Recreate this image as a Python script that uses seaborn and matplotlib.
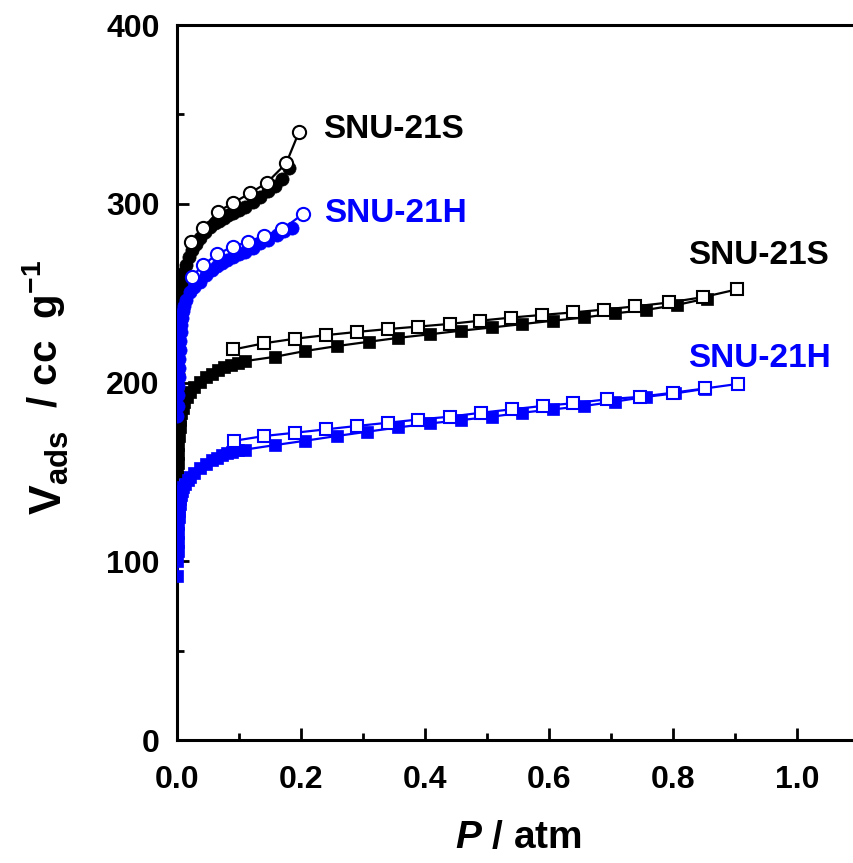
import numpy as np
import pandas as pd
import matplotlib
matplotlib.use("Agg")
import matplotlib.pyplot as plt
from matplotlib.ticker import MultipleLocator
import seaborn as sns

# ---- isotherm data (P / atm, V_ads / cc g^-1) ----
# SNU-21S, low-pressure isotherm (circles)
s_circ_ads_p = [0.0005, 0.001, 0.0015, 0.002, 0.0025, 0.003, 0.004, 0.005, 0.006, 0.008,
                0.010, 0.012, 0.015, 0.019, 0.024, 0.030, 0.037, 0.045, 0.053, 0.061,
                0.068, 0.075, 0.083, 0.091, 0.100, 0.110, 0.122, 0.134, 0.146, 0.158,
                0.170, 0.181]
s_circ_ads_v = [195, 205, 213, 220, 227, 233, 240, 245, 249, 254,
                258, 262, 266, 270, 274, 277.5, 281, 284, 287, 289,
                290.5, 292, 293.5, 295, 296.5, 298, 301, 304, 307, 310,
                314, 320]
s_circ_des_p = [0.022, 0.042, 0.066, 0.091, 0.117, 0.145, 0.176, 0.197]
s_circ_des_v = [278.8, 286.2, 295.6, 300.6, 305.8, 311.8, 322.6, 340.4]

# SNU-21H, low-pressure isotherm (circles)
h_circ_ads_p = [0.0005, 0.001, 0.0015, 0.002, 0.0025, 0.003, 0.0035, 0.004, 0.005, 0.006,
                0.007, 0.008, 0.010, 0.012, 0.015, 0.021, 0.028, 0.037, 0.046, 0.056,
                0.064, 0.072, 0.081, 0.091, 0.100, 0.110, 0.122, 0.134, 0.147, 0.161,
                0.173, 0.185]
h_circ_ads_v = [181, 187, 193, 198, 203, 208, 213, 218, 223, 228,
                232, 236, 240, 243, 246, 250.5, 253.5, 256.5, 260, 263,
                265, 266.7, 268.5, 270.4, 272, 273.2, 275.5, 277.8, 280, 282.5,
                284.5, 286.2]
h_circ_des_p = [0.024, 0.042, 0.065, 0.090, 0.115, 0.140, 0.170, 0.203]
h_circ_des_v = [259.2, 265.7, 271.9, 276.0, 278.8, 282.0, 285.7, 294.3]

# SNU-21S, high-pressure isotherm (squares)
s_sq_ads_p = [0.0005, 0.001, 0.0015, 0.002, 0.003, 0.004, 0.005, 0.007, 0.009, 0.012,
              0.016, 0.021, 0.028, 0.037, 0.046, 0.056, 0.066, 0.076, 0.087, 0.098,
              0.110, 0.158, 0.206, 0.258, 0.309, 0.357, 0.408, 0.458, 0.508, 0.557,
              0.607, 0.657, 0.706, 0.756, 0.806, 0.854]
s_sq_ads_v = [150, 155, 160, 165, 170, 175, 179, 183, 186, 189,
              192, 194.5, 197.5, 200.5, 203, 205, 207, 208.5, 210, 211,
              212, 214.4, 217.6, 220.4, 222.8, 225, 227, 229, 230.8, 232.7,
              234.6, 236.4, 238.7, 240.6, 243.4, 247]
s_sq_des_p = [0.091, 0.141, 0.190, 0.240, 0.290, 0.340, 0.389, 0.440, 0.489, 0.538,
              0.588, 0.638, 0.688, 0.739, 0.794, 0.849, 0.903]
s_sq_des_v = [218.5, 222, 224.5, 226.5, 228.3, 229.9, 231.3, 232.8, 234.6, 236.3,
              237.8, 239.2, 240.8, 242.6, 244.8, 247.8, 252.1]

# SNU-21H, high-pressure isotherm (squares)
h_sq_ads_p = [0.0003, 0.0006, 0.0009, 0.0012, 0.0015, 0.002, 0.0025, 0.003, 0.004, 0.005,
              0.006, 0.008, 0.010, 0.013, 0.017, 0.021, 0.028, 0.037, 0.046, 0.056,
              0.064, 0.072, 0.080, 0.088, 0.098, 0.110, 0.158, 0.206, 0.258, 0.307,
              0.357, 0.408, 0.458, 0.508, 0.556, 0.607, 0.657, 0.706, 0.756, 0.803,
              0.852]
h_sq_ads_v = [92, 100, 106, 111, 116, 121, 125, 128, 132, 135,
              137, 139.5, 141.5, 143.5, 145.5, 147, 149.5, 152, 154.5, 156.5,
              158, 159.4, 160.5, 161.3, 162, 162.5, 165, 167.4, 170.1, 172.5,
              174.9, 177.1, 179, 180.9, 183.1, 185, 186.9, 189.3, 192, 193.9,
              196.5]
h_sq_des_p = [0.092, 0.141, 0.190, 0.240, 0.290, 0.340, 0.389, 0.440, 0.490, 0.540,
              0.590, 0.639, 0.693, 0.746, 0.800, 0.852, 0.904]
h_sq_des_v = [167.4, 170.1, 171.9, 173.8, 175.7, 177.5, 179.3, 180.9, 183.1, 185.0,
              186.9, 188.4, 190.6, 192.0, 194.3, 196.7, 199.2]

# curve labels
label_texts = ["SNU-21S", "SNU-21H", "SNU-21S", "SNU-21H"]
label_p = [0.235, 0.237, 0.824, 0.824]
label_v = [336.8, 289.8, 266.3, 208.7]

BLACK = "#000000"
BLUE = "#0000FF"
label_colors = [BLACK, BLUE, BLACK, BLUE]

# ---- style ----
sns.set_style("ticks")
plt.rcParams["font.family"] = ["Liberation Sans", "DejaVu Sans"]
plt.rcParams["font.weight"] = "bold"
plt.rcParams["text.color"] = BLACK
plt.rcParams["axes.labelcolor"] = BLACK
plt.rcParams["xtick.color"] = BLACK
plt.rcParams["ytick.color"] = BLACK
plt.rcParams["mathtext.fontset"] = "custom"
plt.rcParams["mathtext.rm"] = "Liberation Sans:bold"
plt.rcParams["mathtext.bf"] = "Liberation Sans:bold"
plt.rcParams["mathtext.it"] = "Liberation Sans:italic:bold"
plt.rcParams["mathtext.sf"] = "Liberation Sans:bold"

fig = plt.figure(figsize=(8.54, 8.63), dpi=100)
ax = fig.add_axes([0.2073, 0.1425, 0.7986, 0.8285])


def draw(p, v, color, marker, ms, filled):
    df = pd.DataFrame({"P": p, "V": v})
    kw = dict(marker=marker, markersize=ms, linewidth=1.6, color=color,
              markeredgecolor=color, estimator=None, errorbar=None, ax=ax,
              legend=False, zorder=3 if filled else 4)
    if filled:
        kw.update(markerfacecolor=color, markeredgewidth=0.5)
    else:
        kw.update(markerfacecolor="white", markeredgewidth=1.5)
    sns.lineplot(data=df, x="P", y="V", **kw)


# black (SNU-21S) first, blue (SNU-21H) over it; desorption over adsorption
draw(s_sq_ads_p, s_sq_ads_v, BLACK, "s", 8.5, True)
draw(s_sq_des_p, s_sq_des_v, BLACK, "s", 8.5, False)
draw(s_circ_ads_p, s_circ_ads_v, BLACK, "o", 9.5, True)
draw(s_circ_des_p, s_circ_des_v, BLACK, "o", 9.5, False)
draw(h_sq_ads_p, h_sq_ads_v, BLUE, "s", 8.5, True)
draw(h_sq_des_p, h_sq_des_v, BLUE, "s", 8.5, False)
draw(h_circ_ads_p, h_circ_ads_v, BLUE, "o", 9.5, True)
draw(h_circ_des_p, h_circ_des_v, BLUE, "o", 9.5, False)

for t, p, v, c in zip(label_texts, label_p, label_v, label_colors):
    ax.text(p, v, t, color=c, fontsize=24, fontweight="bold",
            ha="left", va="baseline")

ax.set_xlim(0, 1.1)
ax.set_ylim(0, 400)
ax.xaxis.set_major_locator(MultipleLocator(0.2))
ax.xaxis.set_minor_locator(MultipleLocator(0.1))
ax.yaxis.set_major_locator(MultipleLocator(100))
ax.yaxis.set_minor_locator(MultipleLocator(50))
ax.set_xticks([0.0, 0.2, 0.4, 0.6, 0.8, 1.0])
ax.set_xticklabels(["0.0", "0.2", "0.4", "0.6", "0.8", "1.0"])

for side in ["left", "bottom", "top"]:
    ax.spines[side].set_linewidth(2.2)
    ax.spines[side].set_color(BLACK)
ax.spines["right"].set_visible(False)

ax.tick_params(which="both", direction="in", top=False, right=False,
               width=2.0, color=BLACK)
ax.tick_params(which="major", length=8.5)
ax.tick_params(which="minor", length=5)
ax.tick_params(axis="x", which="major", pad=18, labelsize=23)
ax.tick_params(axis="y", which="major", pad=12.5, labelsize=23)
for lab in ax.get_xticklabels() + ax.get_yticklabels():
    lab.set_fontweight("bold")

ax.set_xlabel("$P$ / atm", fontsize=28, fontweight="bold", labelpad=18)
ax.set_ylabel("")

# y-axis title: large V with subscript, followed by the unit
fig.text(62 / 854, 1 - 515 / 863, r"$\mathregular{V_{ads}}$", fontsize=32,
         rotation=90, rotation_mode="anchor", ha="left", va="baseline")
fig.text(57 / 854, 1 - 430 / 863, r"  / cc  g$^{\mathregular{-1}}$", fontsize=29,
         fontweight="bold", rotation=90, rotation_mode="anchor",
         ha="left", va="baseline")

fig.savefig("out.png", dpi=100)
